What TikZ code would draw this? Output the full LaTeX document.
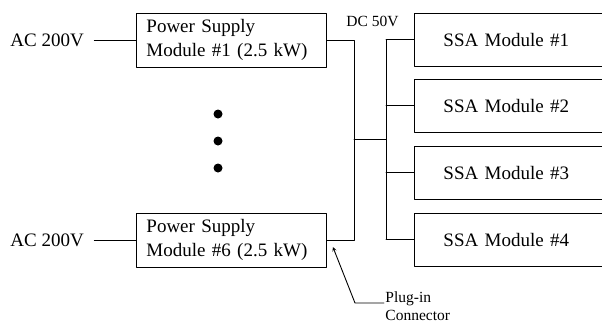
\documentclass[tikz,border=0pt]{standalone}
\usepackage{fontspec}
\setmainfont{Liberation Serif}
\usepackage{tikz}

\begin{document}
\begin{tikzpicture}[x=1bp, y=-1bp, >=stealth, line join=round, line cap=round, line width=0.9bp,
	font=\fontsize{19bp}{24bp}\selectfont,
	psbox/.style={draw, anchor=west, minimum height=54bp, text width=170bp, inner xsep=10bp, align=left},
	ssabox/.style={draw, anchor=west, minimum height=53bp, text width=170bp, inner xsep=29bp, align=left},
	small/.style={font=\fontsize{15.5bp}{18bp}\selectfont}]
	\useasboundingbox (0,0) rectangle (602,325);
	\clip (0,0) rectangle (602,325);

	% Nguồn cấp
	\node[anchor=west, inner xsep=0pt] (ac1) at (10,40) {AC 200V};
	\node[anchor=west, inner xsep=0pt] (ac6) at (10,240) {AC 200V};
	\node[psbox] (ps1) at (136,40) {Power Supply\\Module \#1 (2.5 kW)};
	\node[psbox] (ps6) at (136,240) {Power Supply\\Module \#6 (2.5 kW)};
	\draw ([xshift=10bp]ac1.east) -- (ps1.west);
	\draw ([xshift=10bp]ac6.east) -- (ps6.west);

	% Dấu ba chấm
	\foreach \y in {114, 141, 168} {
		\fill (218,\y) circle (4.5bp);
	}

	% Các module SSA
	\foreach \i/\y in {1/39.5, 2/105.5, 3/172.5, 4/239.5} {
		\node[ssabox] (ssa\i) at (414,\y) {SSA Module \#\i};
	}

	% Thanh cái DC
	\coordinate (busL) at (354,139);
	\coordinate (busR) at (386,139);
	\draw (ps1.east) -| (ps6.east -| busL) -- (ps6.east);
	\draw (busL) -- (busR);
	\draw (ssa1.west -| busR) -- (ssa4.west -| busR);
	\foreach \i in {1,...,4} {
		\draw (ssa\i.west -| busR) -- (ssa\i.west);
	}
	\node[small, anchor=west, inner sep=0pt] (dc) at (346,21) {DC 50V};

	% Chú thích đầu cắm
	\node[small, anchor=north west, align=left, inner sep=1bp] (plug) at (384,290) {Plug-in\\Connector};
	\coordinate (tip) at ([xshift=6bp, yshift=-7bp]ps6.east);
	\coordinate (knee) at (355,303);
	\draw[<-] (tip) -- (knee) -- (knee -| plug.west);
\end{tikzpicture}
\end{document}
